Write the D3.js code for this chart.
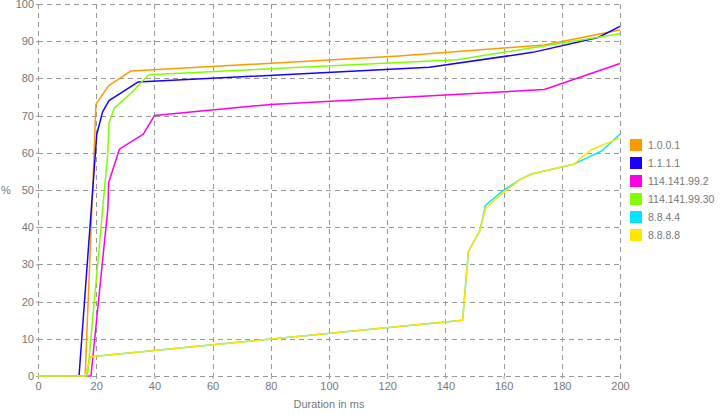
<!DOCTYPE html>
<html>
<head>
<meta charset="utf-8">
<script src="https://cdn.jsdelivr.net/npm/d3@7"></script>
<style>
  body { margin: 0; background: #fff; }
  text { font-family: "Liberation Sans", Arial, sans-serif; fill: #777; }
</style>
</head>
<body>
<svg id="chart" width="720" height="415"></svg>
<script>
// Series: duration (ms) and cumulative percentage
const names = ['1.0.0.1', '1.1.1.1', '114.141.99.2', '114.141.99.30', '8.8.4.4', '8.8.8.8'];
const colors = ['#ff9900', '#1a00ff', '#ff00e6', '#80ff00', '#00e5ff', '#ffe500'];

const ms_1001 = [0, 16.2, 19.3, 19.9, 24.2, 32, 124, 174, 200];
const pct_1001 = [0, 0, 60, 73, 78, 82, 86, 89, 93];

const ms_1111 = [0, 14.1, 20.2, 22.2, 24.4, 34.3, 134.5, 170, 192.5, 200];
const pct_1111 = [0, 0, 65, 71, 74, 79, 83, 87, 91, 94];

const ms_99_2 = [0, 18.2, 24, 24.3, 28, 36.2, 40, 80, 174, 200];
const pct_99_2 = [0, 0, 45, 52, 61, 65, 70, 73, 77, 84];

const ms_99_30 = [0, 17, 24, 24.4, 26.2, 32, 38, 144, 200];
const pct_99_30 = [0, 0, 60, 68, 72, 76, 81, 85, 92];

const ms_8844 = [0, 16.2, 18.1, 145.9, 147.9, 151.9, 153.8, 159.9, 165.6, 169.6, 184, 193.7, 200];
const pct_8844 = [0, 0, 5.2, 15, 33.4, 39.2, 45.9, 49.9, 52.8, 54.3, 56.9, 60.5, 65];

const ms_8888 = [0, 16.2, 18.1, 145.9, 147.9, 151.9, 153.8, 159.9, 165.6, 169.6, 184, 190.3, 200];
const pct_8888 = [0, 0, 5.2, 15, 33.4, 39.2, 45.1, 49.3, 52.7, 54.3, 56.9, 60.9, 64];

const xTicks = [0, 20, 40, 60, 80, 100, 120, 140, 160, 180, 200];
const yTicks = [0, 10, 20, 30, 40, 50, 60, 70, 80, 90, 100];

const seriesMs = [ms_1001, ms_1111, ms_99_2, ms_99_30, ms_8844, ms_8888];
const seriesPct = [pct_1001, pct_1111, pct_99_2, pct_99_30, pct_8844, pct_8888];

const margin = { top: 4, right: 100, bottom: 39, left: 38 };
const width = 720 - margin.left - margin.right;
const height = 415 - margin.top - margin.bottom;

const svg = d3.select('#chart');
const g = svg.append('g').attr('transform', `translate(${margin.left},${margin.top})`);

const x = d3.scaleLinear().domain([0, 200]).range([0, width]);
const y = d3.scaleLinear().domain([0, 100]).range([height, 0]);

// grid (dashed, also forms the frame)
g.append('g').selectAll('line')
  .data(yTicks).enter().append('line')
  .attr('x1', 0).attr('x2', width)
  .attr('y1', d => Math.round(y(d)) + 0.5).attr('y2', d => Math.round(y(d)) + 0.5)
  .attr('stroke', '#999').attr('stroke-dasharray', '5,4');

g.append('g').selectAll('line')
  .data(xTicks).enter().append('line')
  .attr('y1', 0).attr('y2', height)
  .attr('x1', d => Math.round(x(d)) + 0.5).attr('x2', d => Math.round(x(d)) + 0.5)
  .attr('stroke', '#999').attr('stroke-dasharray', '5,4');

// axes
const yAxis = g.append('g')
  .call(d3.axisLeft(y).tickValues(yTicks).tickSize(2).tickPadding(2));
const xAxis = g.append('g')
  .attr('transform', `translate(0,${height})`)
  .call(d3.axisBottom(x).tickValues(xTicks).tickSize(3).tickPadding(3));
[xAxis, yAxis].forEach(a => {
  a.select('.domain').remove();
  a.selectAll('line').attr('stroke', '#999');
  a.selectAll('text').style('font-size', '11px').attr('fill', '#777')
    .style('font-family', '"Liberation Sans", Arial, sans-serif');
});

// lines
const line = d3.line().x(d => x(d[0])).y(d => y(d[1]));
seriesMs.forEach((xs, i) => {
  const pts = xs.map((v, j) => [v, seriesPct[i][j]]);
  g.append('path')
    .datum(pts)
    .attr('fill', 'none')
    .attr('stroke', colors[i])
    .attr('stroke-width', 1.5)
    .attr('stroke-linejoin', 'round')
    .attr('d', line);
});

// axis labels
svg.append('text')
  .attr('x', margin.left + width / 2)
  .attr('y', 408)
  .attr('text-anchor', 'middle')
  .style('font-size', '11px')
  .text('Duration in ms');

svg.append('text')
  .attr('x', 1)
  .attr('y', margin.top + height / 2 + 4)
  .style('font-size', '11px')
  .text('%');

// legend
const legend = svg.append('g').attr('transform', 'translate(630,139)');
names.forEach((n, i) => {
  const row = legend.append('g').attr('transform', `translate(0,${i * 18})`);
  row.append('rect').attr('width', 12).attr('height', 12).attr('fill', colors[i]);
  row.append('text').attr('x', 18).attr('y', 10).style('font-size', '10.5px').text(n);
});
</script>
</body>
</html>
